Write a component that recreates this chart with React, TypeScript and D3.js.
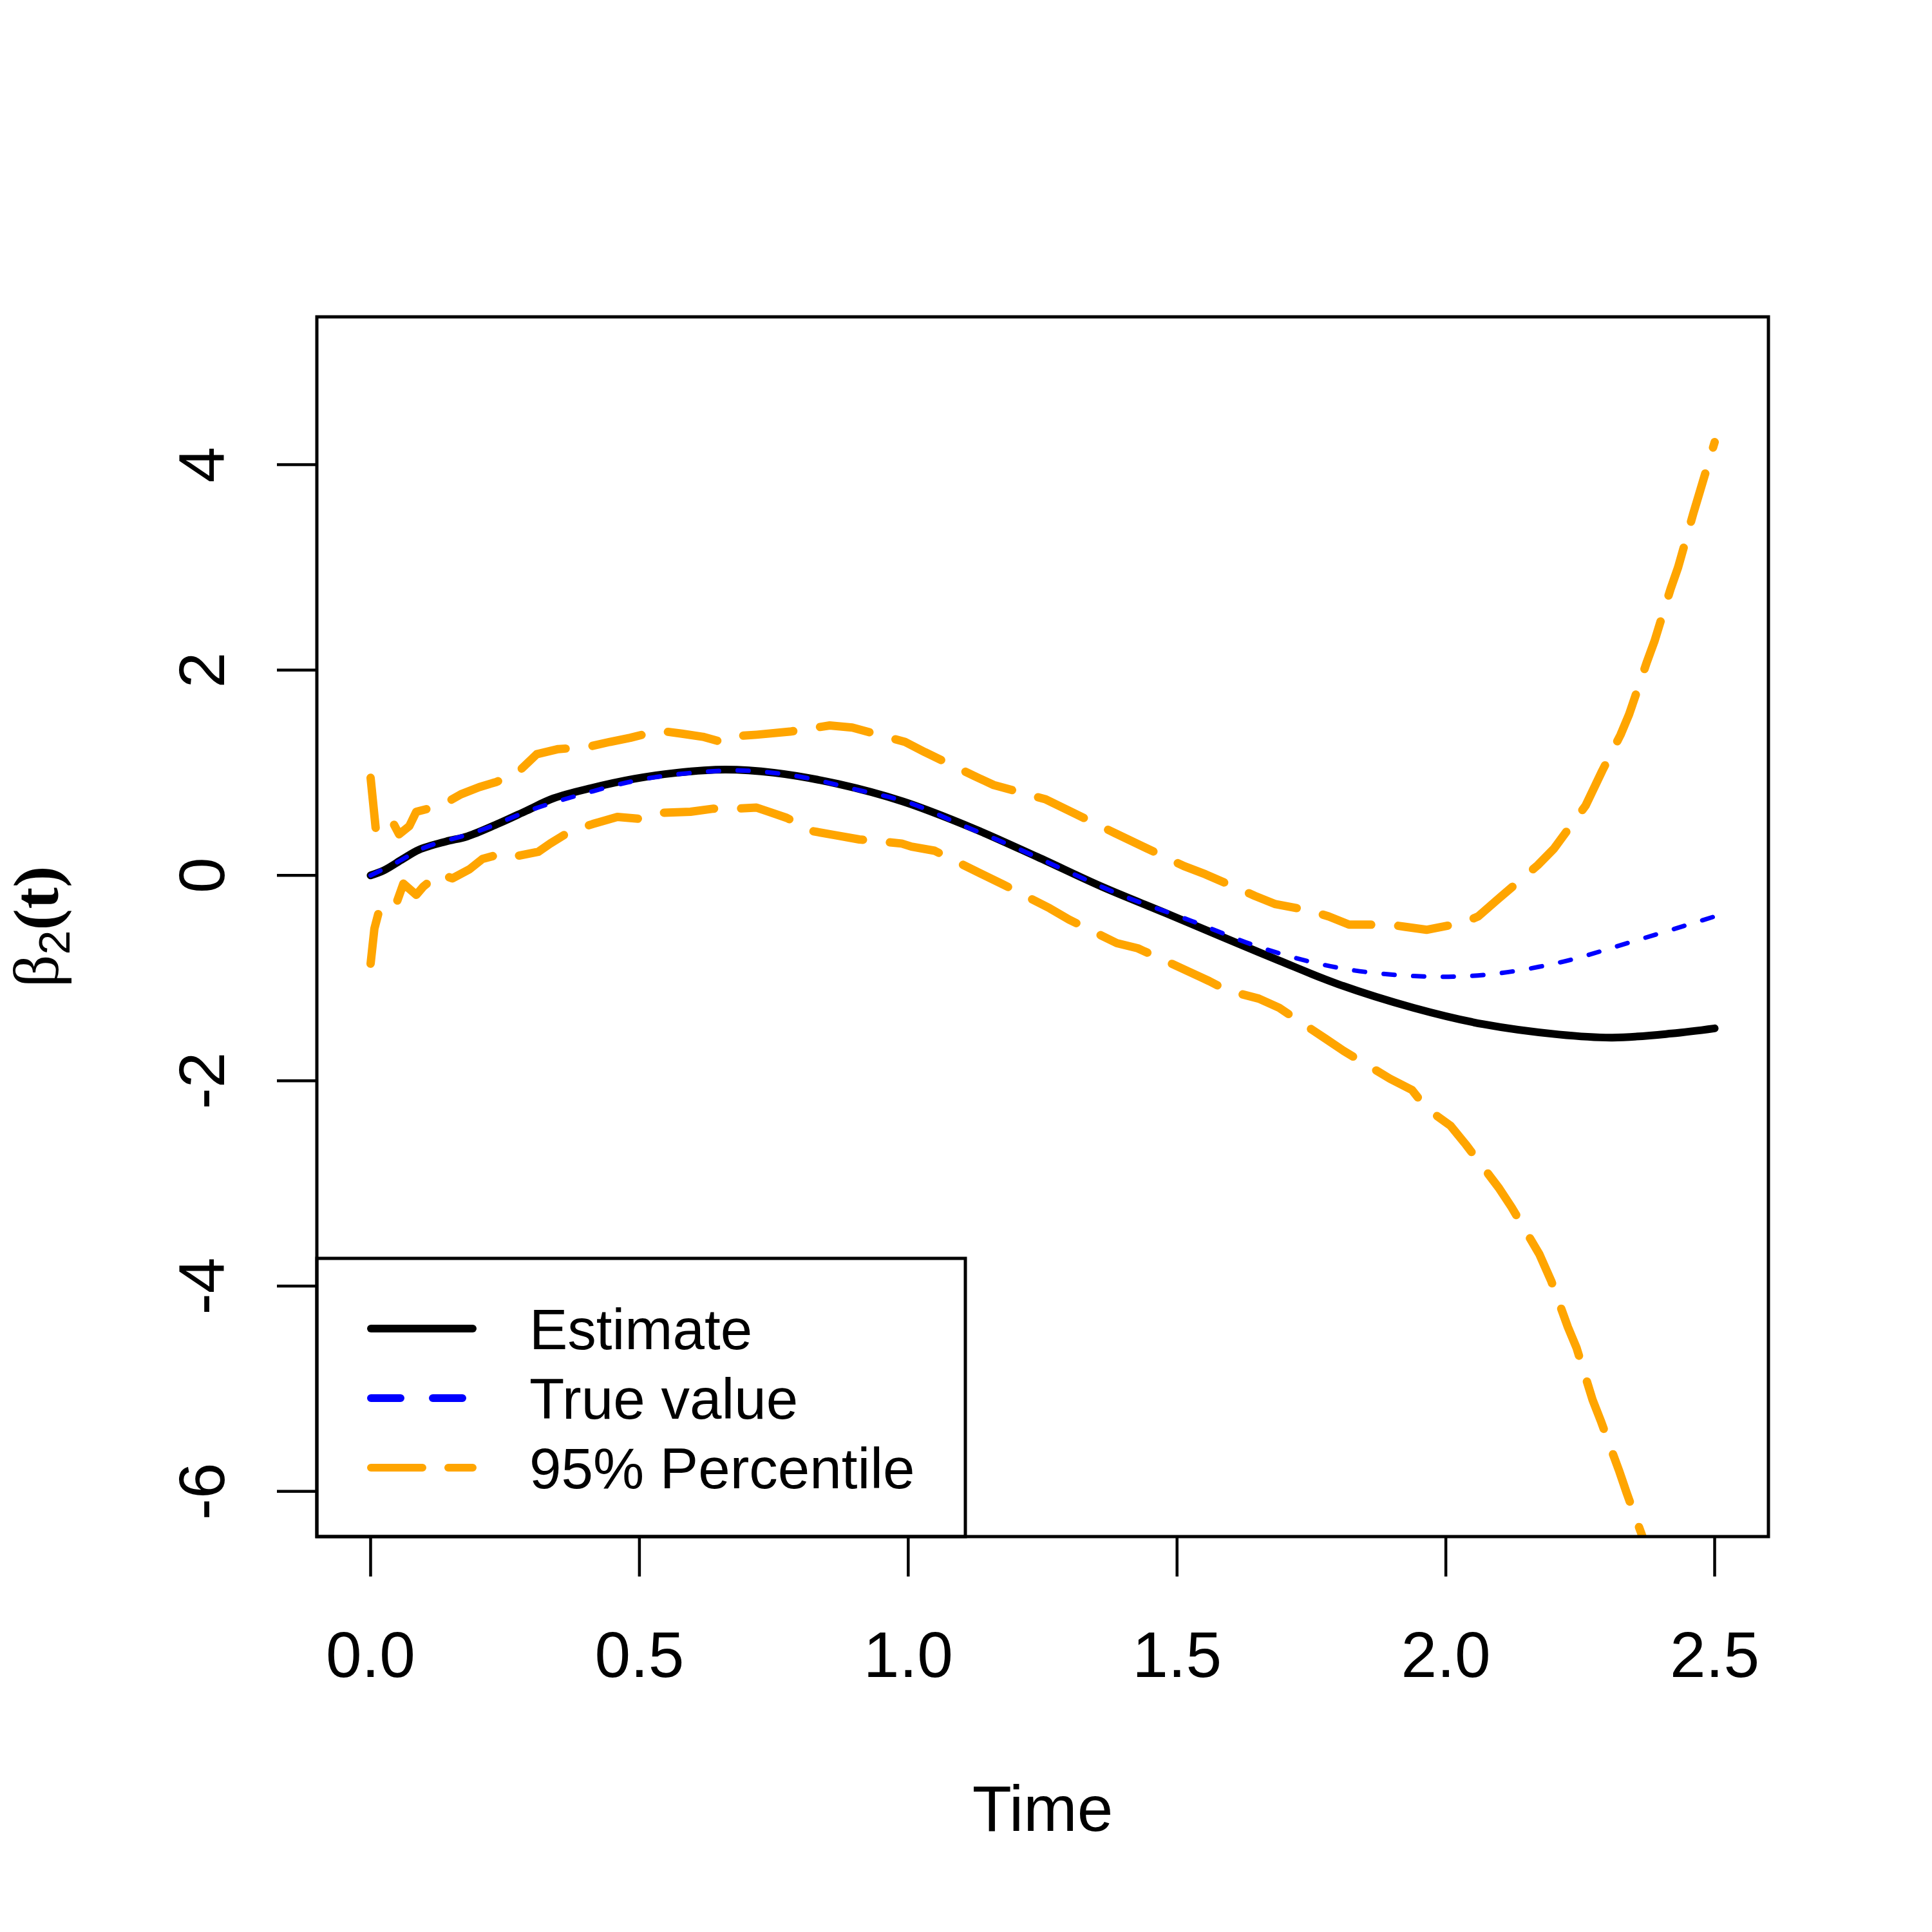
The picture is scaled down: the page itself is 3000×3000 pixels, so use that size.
import * as d3 from 'd3';

// time grid and values
const estT = [0, 0.025, 0.06, 0.09, 0.14, 0.18, 0.24, 0.29, 0.34, 0.41, 0.49, 0.57, 0.66, 0.75, 0.87, 0.99, 1.12, 1.24, 1.36, 1.48, 1.58, 1.69, 1.8, 1.94, 2.07, 2.21, 2.31, 2.42, 2.5];
const estV = [0, 0.05, 0.16, 0.25, 0.33, 0.38, 0.51, 0.63, 0.75, 0.85, 0.94, 1.0, 1.03, 1.0, 0.89, 0.72, 0.46, 0.18, -0.11, -0.37, -0.59, -0.83, -1.06, -1.29, -1.45, -1.55, -1.58, -1.54, -1.49];

const trueT = [0, 0.05, 0.1, 0.2, 0.3, 0.4, 0.5, 0.6, 0.7, 0.8, 0.9, 1.0, 1.1, 1.2, 1.3, 1.4, 1.525, 1.66, 1.8, 1.94, 2.07, 2.21, 2.35, 2.5];
const trueV = [0, 0.13, 0.27, 0.43, 0.64, 0.8, 0.93, 1.0, 1.02, 0.96, 0.84, 0.71, 0.49, 0.27, 0.03, -0.2, -0.44, -0.71, -0.9, -0.98, -0.97, -0.85, -0.64, -0.4];

const upT = [0, 0.01, 0.026, 0.04, 0.053, 0.072, 0.085, 0.122, 0.141, 0.168, 0.202, 0.234, 0.275, 0.309, 0.349, 0.403, 0.445, 0.483, 0.536, 0.579, 0.618, 0.653, 0.691, 0.718, 0.78, 0.854, 0.896, 0.994, 1.031, 1.122, 1.159, 1.256, 1.385, 1.513, 1.553, 1.645, 1.683, 1.745, 1.782, 1.82, 1.896, 1.923, 1.964, 2.033, 2.06, 2.095, 2.171, 2.201, 2.26, 2.291, 2.325, 2.341, 2.374, 2.388, 2.418, 2.432, 2.46, 2.472, 2.5];
const upV = [0.95, 0.43, 0.5, 0.53, 0.4, 0.48, 0.62, 0.67, 0.71, 0.79, 0.86, 0.91, 1.01, 1.18, 1.23, 1.25, 1.3, 1.34, 1.41, 1.38, 1.35, 1.3, 1.36, 1.37, 1.4, 1.46, 1.44, 1.3, 1.2, 0.97, 0.88, 0.74, 0.41, 0.09, 0.01, -0.2, -0.28, -0.34, -0.4, -0.48, -0.48, -0.5, -0.53, -0.46, -0.4, -0.24, 0.1, 0.26, 0.68, 1.02, 1.37, 1.57, 2.08, 2.28, 2.79, 3.0, 3.52, 3.73, 4.22];

const loT = [0, 0.007, 0.015, 0.044, 0.061, 0.085, 0.098, 0.128, 0.152, 0.184, 0.208, 0.243, 0.264, 0.312, 0.334, 0.371, 0.413, 0.459, 0.502, 0.542, 0.595, 0.638, 0.681, 0.718, 0.735, 0.774, 0.823, 0.866, 0.909, 0.988, 1.006, 1.049, 1.134, 1.177, 1.263, 1.299, 1.388, 1.427, 1.519, 1.56, 1.593, 1.652, 1.69, 1.776, 1.81, 1.896, 1.937, 1.964, 2.009, 2.037, 2.098, 2.122, 2.174, 2.196, 2.227, 2.243, 2.273, 2.288, 2.323, 2.336, 2.365, 2.4, 2.45, 2.5];
const loV = [-0.86, -0.52, -0.36, -0.33, -0.08, -0.19, -0.11, 0.02, -0.03, 0.06, 0.16, 0.21, 0.18, 0.23, 0.31, 0.43, 0.5, 0.57, 0.55, 0.61, 0.62, 0.65, 0.65, 0.66, 0.63, 0.56, 0.43, 0.39, 0.35, 0.31, 0.28, 0.24, 0.02, -0.09, -0.32, -0.43, -0.66, -0.71, -0.93, -1.03, -1.12, -1.2, -1.29, -1.59, -1.71, -1.98, -2.09, -2.27, -2.44, -2.62, -3.04, -3.23, -3.69, -3.95, -4.4, -4.6, -5.11, -5.31, -5.81, -6.01, -6.43, -7.0, -8.0, -9.1];

const xTicks = [0, 0.5, 1, 1.5, 2, 2.5];
const yTicks = [-6, -4, -2, 0, 2, 4];
const legendLabels = ['Estimate', 'True value', '95% Percentile'];

const L = 492, R = 2746, T = 492, B = 2386;
const sans = '"Liberation Sans", Arial, sans-serif';
const serif = '"Liberation Serif", "Times New Roman", serif';

export default function App() {
  const x = d3.scaleLinear().domain([-0.1, 2.6]).range([L, R]);
  const y = d3.scaleLinear().domain([-6.44, 5.44]).range([B, T]);

  const pts = (ts: number[], vs: number[]) => ts.map((t, i) => [t, vs[i]] as [number, number]);
  const smooth = d3.line<[number, number]>().x(d => x(d[0])).y(d => y(d[1])).curve(d3.curveCatmullRom.alpha(0.5));
  const rough = d3.line<[number, number]>().x(d => x(d[0])).y(d => y(d[1]));

  const legendY = [2063, 2171, 2279];
  const legendStyles = [
    { stroke: '#000000', dash: undefined },
    { stroke: '#0000FF', dash: '46 50' },
    { stroke: '#FFA500', dash: '80 40' },
  ];

  return (
    <svg width={3000} height={3000} style={{ position: 'absolute', left: 0, top: 0, background: '#fff' }}>
      <defs>
        <clipPath id="plotClip">
          <rect x={L} y={T} width={R - L} height={B - T} />
        </clipPath>
      </defs>
      <rect x={0} y={0} width={3000} height={3000} fill="#fff" />

      <g clipPath="url(#plotClip)" fill="none" strokeLinecap="round" strokeLinejoin="round">
        <path d={rough(pts(upT, upV)) ?? ''} stroke="#FFA500" strokeWidth={13} strokeDasharray="78 42" />
        <path d={rough(pts(loT, loV)) ?? ''} stroke="#FFA500" strokeWidth={13} strokeDasharray="78 42" />
        <path d={smooth(pts(estT, estV)) ?? ''} stroke="#000" strokeWidth={12} />
        <path d={smooth(pts(trueT, trueV)) ?? ''} stroke="#0000FF" strokeWidth={7} strokeDasharray="17 29" />
      </g>

      {/* plot box */}
      <rect x={L} y={T} width={R - L} height={B - T} fill="none" stroke="#000" strokeWidth={5} />

      {/* x axis */}
      {xTicks.map(t => (
        <g key={t}>
          <line x1={x(t)} x2={x(t)} y1={B} y2={B + 62} stroke="#000" strokeWidth={4.5} />
          <text x={x(t)} y={2604} textAnchor="middle" fontFamily={sans} fontSize={100}>{t.toFixed(1)}</text>
        </g>
      ))}

      {/* y axis */}
      {yTicks.map(v => (
        <g key={v}>
          <line x1={L - 62} x2={L} y1={y(v)} y2={y(v)} stroke="#000" strokeWidth={4.5} />
          <text transform={`translate(348,${y(v)}) rotate(-90)`} textAnchor="middle" fontFamily={sans} fontSize={100}>{v}</text>
        </g>
      ))}

      <text x={(L + R) / 2} y={2843} textAnchor="middle" fontFamily={sans} fontSize={100}>Time</text>
      <text transform={`translate(90,${(T + B) / 2}) rotate(-90)`} textAnchor="middle">
        <tspan fontFamily={serif} fontSize={100}>β</tspan>
        <tspan fontFamily={sans} fontSize={68} dy={18}>2</tspan>
        <tspan fontFamily={serif} fontWeight="bold" fontSize={100} dy={-18}>(t)</tspan>
      </text>

      {/* legend */}
      <rect x={L} y={1954} width={1499 - L} height={B - 1954} fill="none" stroke="#000" strokeWidth={5} />
      {legendLabels.map((lab, i) => (
        <g key={lab}>
          <line x1={576} x2={734} y1={legendY[i]} y2={legendY[i]} stroke={legendStyles[i].stroke}
            strokeWidth={12} strokeLinecap="round" strokeDasharray={legendStyles[i].dash} />
          <text x={822} y={legendY[i] + 32} fontFamily={sans} fontSize={89}>{lab}</text>
        </g>
      ))}
    </svg>
  );
}
